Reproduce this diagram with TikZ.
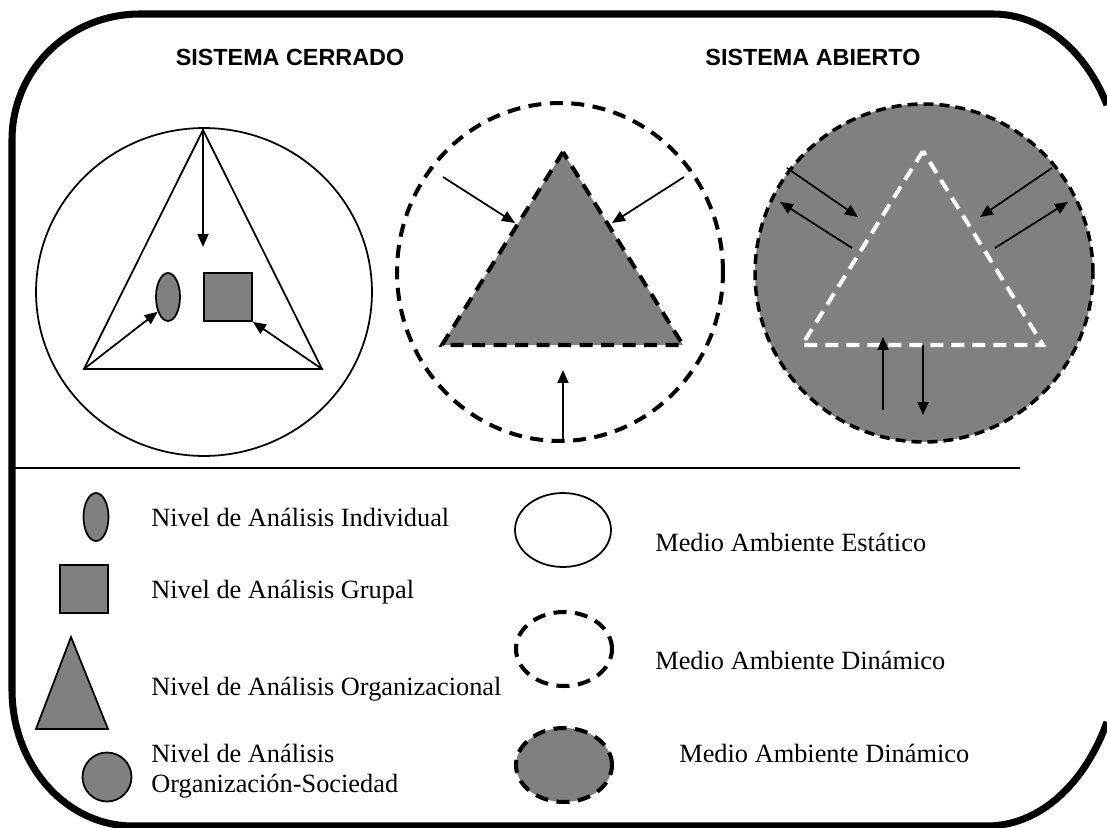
\documentclass[tikz,border=0pt]{standalone}
\usepackage{fontspec}
\setmainfont{Liberation Serif}
\setsansfont{Liberation Sans}
\usetikzlibrary{positioning,shapes.geometric,arrows.meta}
\definecolor{levelgray}{HTML}{808080}

\begin{document}
\begin{tikzpicture}[x = 0.02cm, y = -0.02cm,
                    >={Triangle[length = 0.26cm, width = 0.22cm]},
                    outerframe/.style = {line width = 4pt},
                    heading/.style    = {anchor = base, inner sep = 0,
                                         font = \sffamily\bfseries\fontsize{13.3}{16}\selectfont},
                    legtext/.style    = {anchor = base west, inner sep = 0,
                                         font = \fontsize{15}{18}\selectfont},
                    lvlshape/.style   = {draw, fill = levelgray, line width = 1pt, inner sep = 0},
                    static/.style     = {ellipse, draw, line width = 1pt, inner sep = 0},
                    dynamic/.style    = {ellipse, draw, line width = 2.3pt, inner sep = 0,
                                         dash pattern = on 0.26cm off 0.17cm},
                    flow/.style       = {->, line width = 1pt}]

\useasboundingbox (0,0) rectangle (1107,828);

\draw[outerframe] (1107,105) .. controls (1085,49) and (1041,14) .. (993,14)
                  -- (140,14) .. controls (69,14) and (12,70) .. (12,140)
                  -- (12,690) .. controls (12,765) and (66,826) .. (133,826)
                  -- (987,826) .. controls (1038,826) and (1084,786) .. (1107,722);

\node[heading] (hClosed) at (290,66) {SISTEMA CERRADO};
\node[heading] (hOpen)   at (813,66) {SISTEMA ABIERTO};

\node[static, minimum width = 6.72cm, minimum height = 6.56cm] (envClosed) at (204,292) {};
\coordinate (cTop)   at (203,130);
\coordinate (cLeft)  at (84,369);
\coordinate (cRight) at (322,369);
\draw[line width = 1pt] (cTop) -- (cLeft) -- (cRight) -- cycle;
\node[lvlshape, ellipse, minimum width = 0.48cm, minimum height = 0.96cm] (indClosed) at (168,297) {};
\node[lvlshape, rectangle, minimum size = 0.96cm] (grpClosed) at (228,297) {};
\coordinate (cDown) at (203,247);
\draw[flow] (cTop) -- (cDown);
\draw[flow] (cLeft) -- (indClosed.-125);
\draw[flow] (cRight) -- (grpClosed.south east);

\node[dynamic, minimum width = 6.52cm, minimum height = 6.76cm] (envDyn) at (560,272) {};
\coordinate (mTop)   at (563,152);
\coordinate (mLeft)  at (442,345);
\coordinate (mRight) at (683,345);
\filldraw[fill = levelgray, line width = 2.3pt, dash pattern = on 0.26cm off 0.17cm]
    (mTop) -- (mLeft) -- (mRight) -- cycle;
\coordinate (mInL)  at (443,177);
\coordinate (mHitL) at (515,223);
\coordinate (mInR)  at (684,177);
\coordinate (mHitR) at (612,223);
\coordinate (mBot)  at (563,440);
\coordinate (mUp)   at (563,370);
\draw[flow] (mInL) -- (mHitL);
\draw[flow] (mInR) -- (mHitR);
\draw[flow] (mBot) -- (mUp);

\node[dynamic, fill = levelgray, line width = 2pt, dash pattern = on 0.2cm off 0.12cm,
      minimum size = 6.76cm] (envOpen) at (924,273) {};
\coordinate (oTop)   at (923,151);
\coordinate (oLeft)  at (802,345);
\coordinate (oRight) at (1043,345);
\draw[white, line width = 2.3pt, dash pattern = on 0.26cm off 0.16cm]
    (oTop) -- (oLeft) -- (oRight) -- cycle;
\coordinate (oInL)   at (787,168);
\coordinate (oHitL)  at (858,217);
\coordinate (oOutL)  at (852,248);
\coordinate (oEndL)  at (780,202);
\coordinate (oInR)   at (1052,168);
\coordinate (oHitR)  at (980,217);
\coordinate (oOutR)  at (995,248);
\coordinate (oEndR)  at (1068,202);
\coordinate (oUpS)   at (883,410);
\coordinate (oUpE)   at (883,337);
\coordinate (oDownS) at (923,345);
\coordinate (oDownE) at (923,415);
\draw[flow] (oInL) -- (oHitL);
\draw[flow] (oOutL) -- (oEndL);
\draw[flow] (oInR) -- (oHitR);
\draw[flow] (oOutR) -- (oEndR);
\draw[flow] (oUpS) -- (oUpE);
\draw[flow] (oDownS) -- (oDownE);

\coordinate (sepL) at (12,468);
\coordinate (sepR) at (1020,468);
\draw[line width = 1pt] (sepL) -- (sepR);

\node[lvlshape, ellipse, minimum width = 0.5cm, minimum height = 0.96cm] (keyInd) at (96,517) {};
\node[lvlshape, rectangle, minimum size = 0.96cm] (keyGrp) at (84,589) {};
\coordinate (kTop)   at (71,637);
\coordinate (kLeft)  at (36,729);
\coordinate (kRight) at (108,729);
\filldraw[lvlshape] (kTop) -- (kLeft) -- (kRight) -- cycle;
\node[lvlshape, circle, minimum size = 0.98cm] (keySoc) at (107,777) {};

\node[legtext] (tInd) at (151,526) {Nivel de Análisis Individual};
\node[legtext] (tGrp) at (151,598) {Nivel de Análisis Grupal};
\node[legtext] (tOrg) at (151,695) {Nivel de Análisis Organizacional};
\node[legtext] (tSoc) at (151,762) {Nivel de Análisis};
\node[legtext] (tSoc2) at (151,792) {Organización-Sociedad};

\node[static, minimum width = 1.92cm, minimum height = 1.48cm] (keyStatic) at (563,530) {};
\node[dynamic, minimum width = 1.92cm, minimum height = 1.48cm] (keyDyn) at (564,649) {};
\node[dynamic, fill = levelgray, minimum width = 1.92cm, minimum height = 1.48cm] (keyOpen) at (564,765) {};

\node[legtext] (tStatic) at (655,551) {Medio Ambiente Estático};
\node[legtext] (tDyn)    at (655,669) {Medio Ambiente Dinámico};
\node[legtext] (tOpen)   at (679,762) {Medio Ambiente Dinámico};

\end{tikzpicture}
\end{document}
